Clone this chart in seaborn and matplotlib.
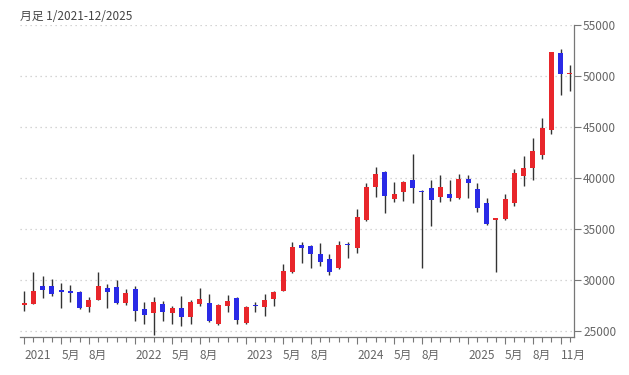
import matplotlib
matplotlib.use('Agg')
import matplotlib.pyplot as plt
import numpy as np
import pandas as pd
import seaborn as sns

# monthly candles, Jan 2021 .. Dec 2025
months = pd.date_range('2021-01-01', '2025-12-01', freq='MS')
opens = [27580, 27620, 29410, 29390, 29000, 28950, 28850, 27380, 28040, 29250, 29280, 27780,
         29100, 27130, 26800, 27600, 26800, 27300, 26350, 27640, 27780, 25700, 27450, 28220,
         25750, 27500, 27400, 28140, 28920, 30780, 33430, 33330, 32520, 32060, 31210, 33480,
         33110, 35880, 39150, 40620, 37940, 38630, 39800, 38760, 38990, 38170, 38430, 38000,
         39900, 38890, 37580, 35880, 36010, 37520, 40200, 41010, 42260, 44710, 52220, 50200]
highs = [28920, 30750, 30390, 30100, 29680, 29540, 28900, 28300, 30750, 29580, 29970, 29120,
         29390, 27810, 28340, 27900, 27450, 28390, 28000, 29220, 28660, 27600, 28500, 28300,
         27430, 27800, 28640, 28900, 31540, 33760, 33760, 33430, 33600, 32520, 33800, 33760,
         36930, 39480, 41110, 40700, 39640, 39700, 42350, 38780, 39800, 40250, 39800, 40380,
         40300, 39480, 38080, 36100, 38430, 40850, 42120, 43890, 45850, 52400, 52620, 51080]
lows = [26960, 27600, 28240, 28400, 27290, 27810, 27200, 26840, 28000, 27220, 27600, 27520,
        25950, 25700, 24600, 26000, 25690, 25520, 25700, 27450, 25900, 25620, 26900, 25720,
        25660, 26900, 26500, 27430, 28900, 30700, 31670, 31150, 31370, 30460, 31100, 32120,
        32620, 35800, 38170, 36600, 37650, 37770, 37520, 31150, 35270, 37650, 37750, 37940,
        38010, 36710, 35400, 30750, 35900, 37250, 39250, 39840, 41840, 44280, 48140, 48560]
closes = [27660, 28950, 29050, 28660, 28820, 28700, 27220, 28070, 29410, 28850, 27780, 28730,
          27000, 26530, 27820, 26850, 27280, 26390, 27800, 28090, 25940, 27590, 27970, 26090,
          27330, 27440, 28040, 28850, 30880, 33210, 33110, 32580, 31730, 30820, 33430, 33430,
          36210, 39150, 40390, 38270, 38430, 39570, 39020, 38600, 37810, 39090, 38070, 39900,
          39470, 37090, 35490, 36050, 37910, 40460, 41010, 42650, 44870, 52320, 50170, 50300]

tick_idx = [0, 4, 7, 12, 16, 19, 24, 28, 31, 36, 40, 43, 48, 52, 55, 58]
tick_labels = ['2021', '5月', '8月', '2022', '5月', '8月', '2023', '5月', '8月',
               '2024', '5月', '8月', '2025', '5月', '8月', '11月']
y_ticks = [25000, 30000, 35000, 40000, 45000, 50000, 55000]

df = pd.DataFrame({'month': months, 'open': opens, 'high': highs, 'low': lows, 'close': closes})
df['x'] = np.arange(len(df))
df['up'] = df['close'] >= df['open']
df['bottom'] = df[['open', 'close']].min(axis=1)
df['height'] = (df['close'] - df['open']).abs().clip(lower=120)

sns.set_theme(style='white')
plt.rcParams['font.family'] = ['Noto Sans CJK JP', 'DejaVu Sans']

fig = plt.figure(figsize=(6.29, 3.75), dpi=100)
ax = fig.add_axes([0.0318, 0.1021, 0.8808, 0.8312])

red = '#e8262b'
blue = '#2a2ae6'
ax.vlines(df['x'], df['low'], df['high'], color='#333333', linewidth=1.0, zorder=2)
ax.bar(df['x'], df['height'], bottom=df['bottom'], width=0.55,
       color=[red if u else blue for u in df['up']], linewidth=0, zorder=3)

ax.set_xlim(-0.45, 59.45)
ax.set_ylim(24440, 55000)

ax.set_yticks(y_ticks)
ax.yaxis.tick_right()
ax.tick_params(axis='y', which='major', direction='out', length=5, width=0.8,
               color='#777777', labelcolor='#666666', labelsize=8.5, pad=1.5, right=True, left=False)
for yv in y_ticks:
    ax.axhline(yv, color='#c8c8c8', linewidth=0.9, linestyle=(0, (1, 3)), zorder=1)

ax.set_xticks(np.arange(len(df)), minor=True)
ax.set_xticks(tick_idx)
ax.set_xticklabels(tick_labels, ha='left')
ax.tick_params(axis='x', which='major', direction='out', length=5, width=0.8,
               color='#777777', labelcolor='#666666', labelsize=8.5, pad=4, bottom=True)
ax.tick_params(axis='x', which='minor', direction='out', length=3.5, width=0.8,
               color='#777777', bottom=True)

for side in ['top', 'left']:
    ax.spines[side].set_visible(False)
for side in ['right', 'bottom']:
    ax.spines[side].set_color('#777777')
    ax.spines[side].set_linewidth(0.9)

fig.text(20 / 629, 1 - 16 / 375, '月足 1/2021-12/2025', ha='left', va='center',
         fontsize=8.5, color='#444444')

fig.savefig('out.png', dpi=100)
